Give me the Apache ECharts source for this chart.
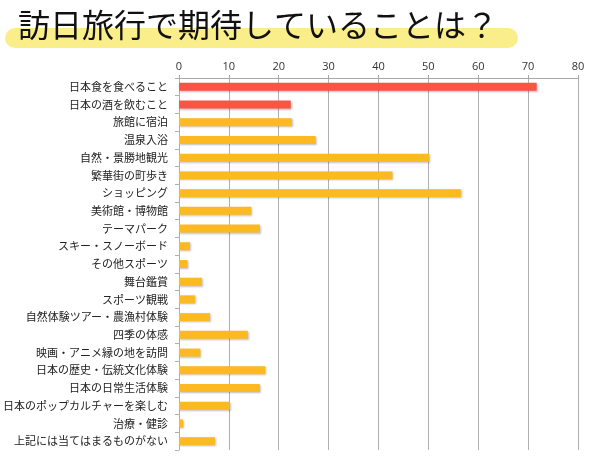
<!DOCTYPE html>
<html>
<head>
<meta charset="utf-8">
<script src="https://cdn.jsdelivr.net/npm/echarts@6/dist/echarts.min.js"></script>
<style>html,body{margin:0;padding:0;background:#fff;}#c{width:600px;height:465px;}</style>
</head>
<body>
<div id="c"></div>
<script>
const title = '訪日旅行で期待していることは？';
const categories = ['日本食を食べること','日本の酒を飲むこと','旅館に宿泊','温泉入浴','自然・景勝地観光','繁華街の町歩き','ショッピング','美術館・博物館','テーマパーク','スキー・スノーボード','その他スポーツ','舞台鑑賞','スポーツ観戦','自然体験ツアー・農漁村体験','四季の体感','映画・アニメ縁の地を訪問','日本の歴史・伝統文化体験','日本の日常生活体験','日本のポップカルチャーを楽しむ','治療・健診','上記には当てはまるものがない'];
const values = [71.7,22.4,22.6,27.4,50.2,42.8,56.5,14.5,16.2,2.2,1.7,4.6,3.2,6.2,13.8,4.3,17.3,16.2,10.2,0.8,7.2];
const highlightCount = 2;
const xTicks = {min:0, max:80, interval:10};

const chart = echarts.init(document.getElementById('c'));
chart.setOption({
  animation:false,
  backgroundColor:'#fff',
  graphic:[
    {type:'rect', shape:{x:5,y:28,width:513,height:20,r:10}, style:{fill:'#F9EE8A'}, z:0},
    {type:'text', left:18, top:9, style:{text:title, fontFamily:'Noto Sans CJK JP', fontSize:32, fill:'#111', fontWeight:'normal'}, z:1}
  ],
  grid:{left:173,right:22,top:78,bottom:15,containLabel:false},
  xAxis:{
    type:'value', position:'top', min:xTicks.min, max:xTicks.max, interval:xTicks.interval,
    axisLine:{show:true,lineStyle:{color:'#A8A8A8'}},
    axisTick:{show:true,length:3,lineStyle:{color:'#A8A8A8'}},
    splitLine:{show:true,lineStyle:{color:'#B0B0B0'}},
    axisLabel:{color:'#333',fontFamily:'Open Sans',fontSize:11,margin:6}
  },
  yAxis:{
    type:'category', inverse:true, data:categories,
    axisLine:{show:true,lineStyle:{color:'#B0B0B0'}},
    axisTick:{show:true,length:4,lineStyle:{color:'#B0B0B0'}},
    axisLabel:{color:'#222',fontFamily:'Noto Sans CJK JP',fontSize:11,margin:11}
  },
  series:[{
    type:'bar', barWidth:8,
    data:values.map((v,i)=>({value:v,itemStyle:{color:i<highlightCount?'#FC5345':'#FDB922'}})),
    itemStyle:{shadowColor:'rgba(0,0,0,0.25)',shadowBlur:2,shadowOffsetX:1,shadowOffsetY:1}
  }]
});
</script>
</body>
</html>
